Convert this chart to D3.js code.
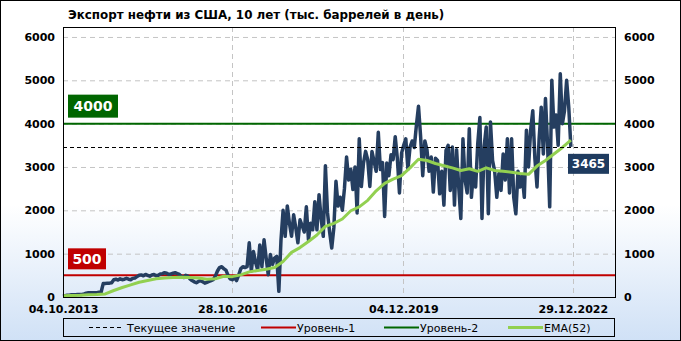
<!DOCTYPE html>
<html>
<head>
<meta charset="utf-8">
<script src="https://cdn.jsdelivr.net/npm/d3@7"></script>
<style>
  body { margin: 0; background: #fff; }
  svg { display: block; }
  text { font-family: "DejaVu Sans", sans-serif; }
</style>
</head>
<body>
<div class="chart"></div>
<script>
const title = 'Экспорт нефти из США, 10 лет (тыс. баррелей в день)';

// weekly series, one point per 2 weeks
const startDate = '04.10.2013';
const stepDays = 14;
const exportValues = [
  20,30,40,40,50,50,50,60,60,60,70,
  90,100,100,100,100,100,110,110,
  310,310,320,320,330,
  400,410,390,
  420,400,410,430,410,400,430,440,
  470,500,510,490,520,500,480,510,520,490,500,530,
  540,560,550,520,530,550,560,540,520,
  470,450,500,480,420,
  380,350,330,360,380,350,320,340,360,380,400,
  480,600,680,700,650,620,
  500,420,400,
  450,380,500,
  650,700,680,700,
  1250,600,1050,800,630,1200,700,1320,900,515,980,750,900,940,130,1300,
  2000,1400,2100,1700,1400,1900,1600,1250,1780,1650,1500,2080,1320,1700,1550,2200,
  1550,2360,1800,1400,3030,1940,1500,1130,1600,2670,2100,2300,2000,2500,3230,2700,
  2950,2480,3000,1940,3650,2550,3090,3360,3170,2550,3360,3130,2900,3800,2940,3100,
  1860,3090,2800,3280,3170,3700,3200,2400,3320,3500,3650,2950,3460,
  3600,3450,3960,4400,3700,2800,3600,3400,2900,3230,2420,3200,3150,2380,2900,2120,
  3380,3500,2460,3460,2120,3400,2540,1810,3650,2700,2400,3880,2300,2900,2540,3540,
  4140,1810,3460,3920,1920,4040,3150,2900,2300,2850,2460,3300,2700,3650,2400,3650,
  2300,1920,2900,2540,2800,2300,3850,3000,3850,4300,3200,2540,3650,4380,3300,4580,
  3500,2080,5000,3920,4200,3500,5150,4000,4300,5000,4380,3465
];

// EMA(52), one point per 8 weeks
const emaStepDays = 56;
const emaValues = [
  30,35,40,50,55,70,150,220,280,340,380,420,440,450,455,450,440,410,420,480,
  470,510,580,610,640,680,820,1030,1140,1280,1430,1630,1700,1800,1990,2080,2230,2450,2620,2720,
  2800,2980,3180,3150,3080,3030,2980,2920,2960,2900,2980,2920,2900,2880,2850,2830,3020,3150,3300,3450,
  3620
];

const currentValue = 3465;
const level1 = 500;
const level2 = 4000;

const yTicks = [0, 1000, 2000, 3000, 4000, 5000, 6000];
const xTickLabels = ['04.10.2013', '28.10.2016', '04.12.2019', '29.12.2022'];
const legendLabels = ['Текущее значение', 'Уровень-1', 'Уровень-2', 'EMA(52)'];

const width = 681;
const height = 341;
const parse = d3.timeParse('%d.%m.%Y');
const start = parse(startDate);

const exportData = exportValues.map((v, i) => ({date: d3.timeDay.offset(start, i * stepDays), value: v}));
const emaData = emaValues.map((v, i) => ({date: d3.timeDay.offset(start, i * emaStepDays), value: v}));

const svg = d3.select('.chart').append('svg')
  .attr('width', width)
  .attr('height', height);

const grad = svg.append('defs').append('linearGradient')
  .attr('id', 'bg')
  .attr('x1', 0).attr('y1', 0).attr('x2', 0).attr('y2', 1);
grad.append('stop').attr('offset', '0%').attr('stop-color', '#ffffff');
grad.append('stop').attr('offset', '60%').attr('stop-color', '#ffffff');
grad.append('stop').attr('offset', '100%').attr('stop-color', '#d0e1f6');

svg.append('rect')
  .attr('x', 0.5).attr('y', 0.5)
  .attr('width', width - 1).attr('height', height - 1)
  .attr('fill', 'url(#bg)')
  .attr('stroke', '#000');

const plot = {left: 63, right: 615, top: 27, bottom: 297};

const x = d3.scaleTime()
  .domain([start, d3.timeYear.offset(start, 10)])
  .range([plot.left, plot.right]);

const y = d3.scaleLinear()
  .domain([0, 6230])
  .range([plot.bottom, plot.top]);

// title
svg.append('text')
  .attr('x', 68).attr('y', 19)
  .attr('font-size', 11.9)
  .attr('font-weight', 'bold')
  .text(title);

// grid
svg.selectAll('.hgrid')
  .data(yTicks.filter(d => d > 0))
  .enter().append('line')
  .attr('x1', plot.left).attr('x2', plot.right)
  .attr('y1', d => y(d) + 0.5).attr('y2', d => y(d) + 0.5)
  .attr('stroke', '#c4c4c4')
  .attr('stroke-dasharray', '5,4');

svg.selectAll('.vgrid')
  .data(xTickLabels.slice(1))
  .enter().append('line')
  .attr('x1', d => Math.round(x(parse(d))) + 0.5)
  .attr('x2', d => Math.round(x(parse(d))) + 0.5)
  .attr('y1', plot.top).attr('y2', plot.bottom)
  .attr('stroke', '#c4c4c4')
  .attr('stroke-dasharray', '5,4');

// axes labels
const leftAxis = d3.axisLeft(y).tickValues(yTicks).tickFormat(d3.format('d')).tickSize(0).tickPadding(8);
const rightAxis = d3.axisRight(y).tickValues(yTicks).tickFormat(d3.format('d')).tickSize(0).tickPadding(9);
const bottomAxis = d3.axisBottom(x).tickValues(xTickLabels.map(parse)).tickFormat(d3.timeFormat('%d.%m.%Y')).tickSize(0).tickPadding(8);

[[leftAxis, plot.left, 0], [rightAxis, plot.right, 0], [bottomAxis, 0, plot.bottom]].forEach(([ax, tx, ty]) => {
  const g = svg.append('g')
    .attr('transform', `translate(${tx},${ty})`)
    .call(ax);
  g.select('.domain').remove();
  g.selectAll('text')
    .attr('font-family', '"DejaVu Sans", sans-serif')
    .attr('font-size', 11)
    .attr('font-weight', 'bold')
    .attr('fill', '#000');
});

// level lines
svg.append('line')
  .attr('x1', plot.left).attr('x2', plot.right)
  .attr('y1', y(level1)).attr('y2', y(level1))
  .attr('stroke', '#c00000').attr('stroke-width', 2);

svg.append('line')
  .attr('x1', plot.left).attr('x2', plot.right)
  .attr('y1', y(level2)).attr('y2', y(level2))
  .attr('stroke', '#006600').attr('stroke-width', 2);

// data line
const line = d3.line()
  .x(d => x(d.date))
  .y(d => y(d.value));

svg.append('path')
  .datum(exportData)
  .attr('d', line)
  .attr('fill', 'none')
  .attr('stroke', '#253e60')
  .attr('stroke-width', 3.5)
  .attr('stroke-linejoin', 'round');

svg.append('path')
  .datum(emaData)
  .attr('d', line)
  .attr('fill', 'none')
  .attr('stroke', '#92d050')
  .attr('stroke-width', 3)
  .attr('stroke-linejoin', 'round');

svg.append('line')
  .attr('x1', plot.left).attr('x2', plot.right)
  .attr('y1', Math.round(y(currentValue)) + 0.5).attr('y2', Math.round(y(currentValue)) + 0.5)
  .attr('stroke', '#000')
  .attr('stroke-dasharray', '4,3');

// plot frame
svg.append('rect')
  .attr('x', plot.left + 0.5).attr('y', plot.top + 0.5)
  .attr('width', plot.right - plot.left).attr('height', plot.bottom - plot.top)
  .attr('fill', 'none')
  .attr('stroke', '#000');

// value tags
function tag(value, cx, boxY, w, h, color, size) {
  svg.append('rect')
    .attr('x', cx).attr('y', boxY)
    .attr('width', w).attr('height', h)
    .attr('fill', color);
  svg.append('text')
    .attr('x', cx + w / 2).attr('y', boxY + h / 2)
    .attr('dy', '0.36em')
    .attr('text-anchor', 'middle')
    .attr('font-size', size)
    .attr('font-weight', 'bold')
    .attr('fill', '#fff')
    .text(value);
}
tag(level2, 68, y(level2) - 29, 50, 23, '#006600', 14);
tag(level1, 68, y(level1) - 27, 38, 21, '#c00000', 14);
tag(currentValue, 568, y(currentValue) + 7, 41, 20, '#1f3b5f', 12);

// legend
const legend = svg.append('g');
legend.append('rect')
  .attr('x', 63.5).attr('y', 318.5)
  .attr('width', 551).attr('height', 18)
  .attr('fill', 'none')
  .attr('stroke', '#000');

const legendX = [89, 261, 384, 508];
const legendStyle = [
  {stroke: '#000', dash: '4,3', w: 1},
  {stroke: '#c00000', dash: null, w: 2},
  {stroke: '#006600', dash: null, w: 2},
  {stroke: '#92d050', dash: null, w: 3}
];
legendLabels.forEach((label, i) => {
  const s = legendStyle[i];
  legend.append('line')
    .attr('x1', legendX[i]).attr('x2', legendX[i] + (i === 0 ? 33 : 35))
    .attr('y1', 327.5).attr('y2', 327.5)
    .attr('stroke', s.stroke)
    .attr('stroke-width', s.w)
    .attr('stroke-dasharray', s.dash);
  legend.append('text')
    .attr('x', legendX[i] + (i === 0 ? 38 : 36))
    .attr('y', 332)
    .attr('font-size', 11)
    .text(label);
});
</script>
</body>
</html>
